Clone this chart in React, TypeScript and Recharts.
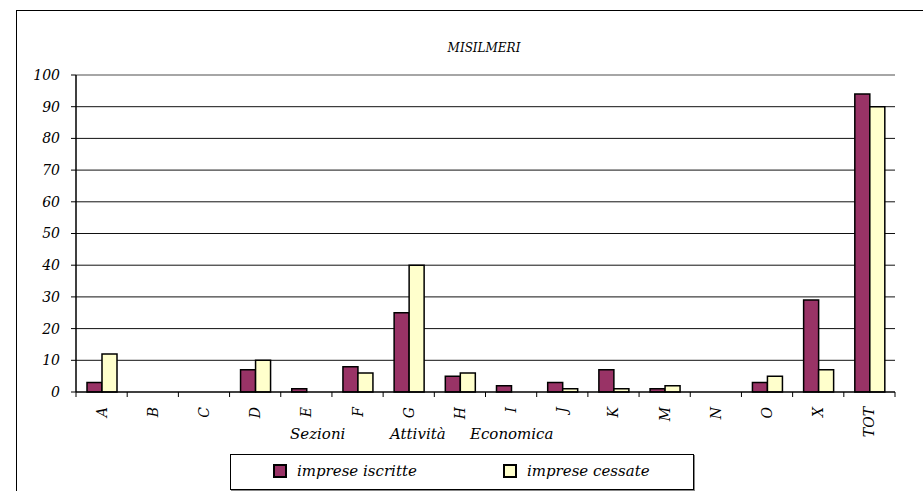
import { Bar, BarChart, CartesianGrid, ReferenceLine, XAxis, YAxis } from "recharts";

const sections = ["A", "B", "C", "D", "E", "F", "G", "H", "I", "J", "K", "M", "N", "O", "X", "TOT"];
const iscritte = [3, 0, 0, 7, 1, 8, 25, 5, 2, 3, 7, 1, 0, 3, 29, 94];
const cessate = [12, 0, 0, 10, 0, 6, 40, 6, 0, 1, 1, 2, 0, 5, 7, 90];
const yTicks = [0, 10, 20, 30, 40, 50, 60, 70, 80, 90, 100];

const data = sections.map((s, i) => ({ s, iscritte: iscritte[i], cessate: cessate[i] }));

const W = 923;
const H = 491;
const X_H = 50;
const M = { top: 75, right: 28, left: 16, bottom: 99 - X_H };
const Y_W = 60;
const serif = "'DejaVu Serif', serif";
const PURPLE = "#993366";
const CREAM = "#FFFFCC";

const band = (W - M.left - Y_W - M.right) / sections.length;

function SectionTick(props: any) {
  const { x, y, payload, index } = props;
  const last = index === sections.length - 1;
  return (
    <g>
      <line x1={x - band / 2} x2={x - band / 2} y1={y} y2={y + 5} stroke="#000" />
      {last && <line x1={x + band / 2} x2={x + band / 2} y1={y} y2={y + 5} stroke="#000" />}
      <text
        transform={`translate(${x + 5},${y + 15}) rotate(-90)`}
        textAnchor="end"
        style={{ fontFamily: serif, fontStyle: "italic", fontSize: 14 }}
        fill="#000"
      >
        {payload.value}
      </text>
    </g>
  );
}

function Swatch({ color }: { color: string }) {
  return (
    <span
      style={{
        display: "inline-block",
        width: 10,
        height: 10,
        background: color,
        border: "2px solid #000",
        marginRight: 10,
      }}
    />
  );
}

export default function App() {
  return (
    <div
      style={{
        position: "absolute",
        left: 0,
        top: 0,
        width: W,
        height: H,
        overflow: "hidden",
        background: "#fff",
        fontFamily: serif,
      }}
    >
      <div
        style={{
          position: "absolute",
          left: 16,
          top: 10,
          width: W,
          height: H,
          borderLeft: "1.5px solid #000",
          borderTop: "1.5px solid #000",
        }}
      />
      <div
        style={{
          position: "absolute",
          left: 0,
          width: 968,
          top: 41,
          textAlign: "center",
          fontSize: 12,
          lineHeight: "14px",
          fontStyle: "italic",
        }}
      >
        MISILMERI
      </div>
      <BarChart
        width={W}
        height={H}
        data={data}
        margin={M}
        barCategoryGap={11}
        barGap={0}
        style={{ position: "absolute", left: 0, top: 0 }}
      >
        <CartesianGrid
          vertical={false}
          stroke="#111"
          horizontalValues={yTicks.slice(1, -1)}
        />
        <ReferenceLine y={100} stroke="#888" strokeWidth={1.5} />
        <XAxis
          dataKey="s"
          tickLine={false}
          tickSize={0}
          tickMargin={0}
          interval={0}
          height={X_H}
          axisLine={{ stroke: "#000", strokeWidth: 1.5 }}
          tick={<SectionTick />}
        />
        <YAxis
          yAxisId={0}
          domain={[0, 100]}
          ticks={yTicks}
          width={Y_W}
          tickSize={5}
          tickMargin={11}
          axisLine={{ stroke: "#000", strokeWidth: 1.5 }}
          tickLine={{ stroke: "#000" }}
          tick={{ fontSize: 14, fontStyle: "italic", fill: "#000", style: { fontFamily: serif } }}
        />
        <YAxis
          yAxisId="r"
          orientation="right"
          domain={[0, 100]}
          width={0}
          tick={false}
          tickLine={false}
          axisLine={{ stroke: "#888", strokeWidth: 1.5 }}
        />
        <Bar dataKey="iscritte" fill={PURPLE} stroke="#000" strokeWidth={1.5} isAnimationActive={false} />
        <Bar dataKey="cessate" fill={CREAM} stroke="#000" strokeWidth={1.5} isAnimationActive={false} />
      </BarChart>
      <div style={{ position: "absolute", top: 425, left: 0, fontSize: 15, lineHeight: "18px", fontStyle: "italic" }}>
        <span style={{ position: "absolute", left: 290 }}>Sezioni</span>
        <span style={{ position: "absolute", left: 390 }}>Attività</span>
        <span style={{ position: "absolute", left: 470 }}>Economica</span>
      </div>
      <div
        style={{
          position: "absolute",
          left: 230,
          top: 454,
          width: 462,
          height: 34,
          border: "1px solid #000",
          boxShadow: "1px 1px 0 #888",
          fontSize: 15,
          fontStyle: "italic",
        }}
      >
        <div style={{ position: "absolute", left: 42, top: 7, display: "flex", alignItems: "center", whiteSpace: "nowrap" }}>
          <Swatch color={PURPLE} />
          imprese iscritte
        </div>
        <div style={{ position: "absolute", left: 272, top: 7, display: "flex", alignItems: "center", whiteSpace: "nowrap" }}>
          <Swatch color={CREAM} />
          imprese cessate
        </div>
      </div>
    </div>
  );
}
